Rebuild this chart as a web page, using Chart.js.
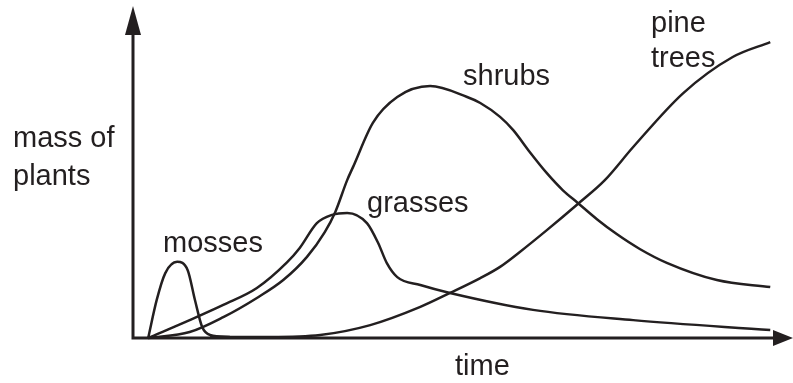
<!DOCTYPE html>
<html>
<head>
<meta charset="utf-8">
<script src="https://cdn.jsdelivr.net/npm/chart.js@4"></script>
<style>
  html, body { margin: 0; padding: 0; background: #fff; }
  #wrap { width: 793px; height: 383px; }
</style>
</head>
<body>
<div id="wrap"><canvas id="succession"></canvas></div>
<script>
// values (time 0-100, mass 0-100)
const mossesTime  = [2.3, 3.6, 4.9, 6.7, 8.3, 9.4, 10.5, 11.7, 14.7];
const mossesMass  = [0, 11.5, 19.6, 23.0, 20.5, 11.5, 3.3, 0.9, 0.3];

const grassesTime = [2.3, 8.6, 13.7, 18.8, 23.4, 25.3, 27.9, 30.2, 32.5, 35.5, 37.2, 38.5, 40.1, 43.6, 48.1, 60.7, 75.9, 96.7];
const grassesMass = [0, 5.4, 10.0, 15.1, 22.9, 27.2, 34.7, 37.2, 37.8, 34.7, 28.7, 22.7, 18.4, 16.0, 13.6, 8.5, 5.4, 2.4];

const shrubsTime  = [2.3, 8.6, 13.7, 18.8, 22.8, 26.4, 29.1, 30.7, 32.5, 33.4, 36.4, 40.1, 45.1, 50.7, 52.7, 55.7, 57.7, 60.2, 62.8, 65.2, 67.5, 70.4, 73.4, 76.9, 81.0, 88.6, 96.7];
const shrubsMass  = [0, 1.8, 6.3, 12.1, 17.5, 24.5, 32.0, 38.1, 47.7, 51.7, 65.0, 72.8, 76.1, 72.8, 71.0, 66.8, 62.8, 56.2, 49.8, 44.7, 40.8, 35.9, 31.4, 26.9, 22.7, 17.5, 15.4];

const pineTime    = [11.7, 20.8, 28.4, 36.0, 43.6, 48.1, 52.7, 55.7, 58.7, 62.8, 67.5, 71.6, 75.9, 83.5, 91.0, 96.7];
const pineMass    = [0.3, 0.3, 0.9, 3.9, 9.4, 13.6, 18.1, 21.5, 26.0, 32.6, 40.5, 47.7, 57.7, 74.0, 84.9, 89.4];

const ink = '#231f20';

function toPoints(xs, ys) {
  return xs.map((x, i) => ({ x: x, y: ys[i] }));
}

// text labels drawn on the canvas (position in pixels)
const labels = [
  { text: 'mosses',  x: 163, y: 252 },
  { text: 'grasses', x: 367, y: 212 },
  { text: 'shrubs',  x: 463, y: 85 },
  { text: 'pine',    x: 651, y: 32 },
  { text: 'trees',   x: 651, y: 67 },
  { text: 'time',    x: 455, y: 375 },
  { text: 'mass of', x: 13,  y: 147 },
  { text: 'plants',  x: 13,  y: 185 }
];

const axesPlugin = {
  id: 'axesPlugin',
  beforeDatasetsDraw(chart) {
    const ctx = chart.ctx;
    const xs = chart.scales.x, ys = chart.scales.y;
    const x0 = xs.getPixelForValue(0);
    const y0 = ys.getPixelForValue(0);
    const yTop = ys.getPixelForValue(100);
    const xEnd = xs.getPixelForValue(100);
    ctx.save();
    ctx.strokeStyle = ink;
    ctx.fillStyle = ink;
    ctx.lineWidth = 3;
    ctx.beginPath();
    ctx.moveTo(x0, yTop + 20);
    ctx.lineTo(x0, y0);
    ctx.lineTo(xEnd - 15, y0);
    ctx.stroke();
    // arrow heads
    ctx.beginPath();
    ctx.moveTo(x0, yTop - 1);
    ctx.lineTo(x0 - 8, yTop + 28);
    ctx.lineTo(x0 + 8, yTop + 28);
    ctx.closePath();
    ctx.fill();
    ctx.beginPath();
    ctx.moveTo(xEnd + 1, y0);
    ctx.lineTo(xEnd - 19, y0 - 8);
    ctx.lineTo(xEnd - 19, y0 + 8);
    ctx.closePath();
    ctx.fill();
    ctx.restore();
  },
  afterDraw(chart) {
    const ctx = chart.ctx;
    ctx.save();
    ctx.fillStyle = ink;
    ctx.font = '29px "Liberation Sans", Arial, sans-serif';
    ctx.textBaseline = 'alphabetic';
    ctx.textAlign = 'left';
    labels.forEach(l => ctx.fillText(l.text, l.x, l.y));
    ctx.restore();
  }
};

const line = (label, pts) => ({
  label: label,
  data: pts,
  borderColor: ink,
  borderWidth: 2.5,
  pointRadius: 0,
  fill: false,
  cubicInterpolationMode: 'monotone',
  clip: false
});

new Chart(document.getElementById('succession'), {
  type: 'line',
  data: {
    datasets: [
      line('mosses', toPoints(mossesTime, mossesMass)),
      line('grasses', toPoints(grassesTime, grassesMass)),
      line('shrubs', toPoints(shrubsTime, shrubsMass)),
      line('pine trees', toPoints(pineTime, pineMass))
    ]
  },
  options: {
    responsive: true,
    maintainAspectRatio: false,
    animation: false,
    layout: { padding: { left: 133, right: 1, top: 7, bottom: 45 } },
    plugins: {
      legend: { display: false },
      tooltip: { enabled: false }
    },
    scales: {
      x: { type: 'linear', min: 0, max: 100, display: false },
      y: { type: 'linear', min: 0, max: 100, display: false }
    }
  },
  plugins: [axesPlugin]
});
</script>
</body>
</html>
